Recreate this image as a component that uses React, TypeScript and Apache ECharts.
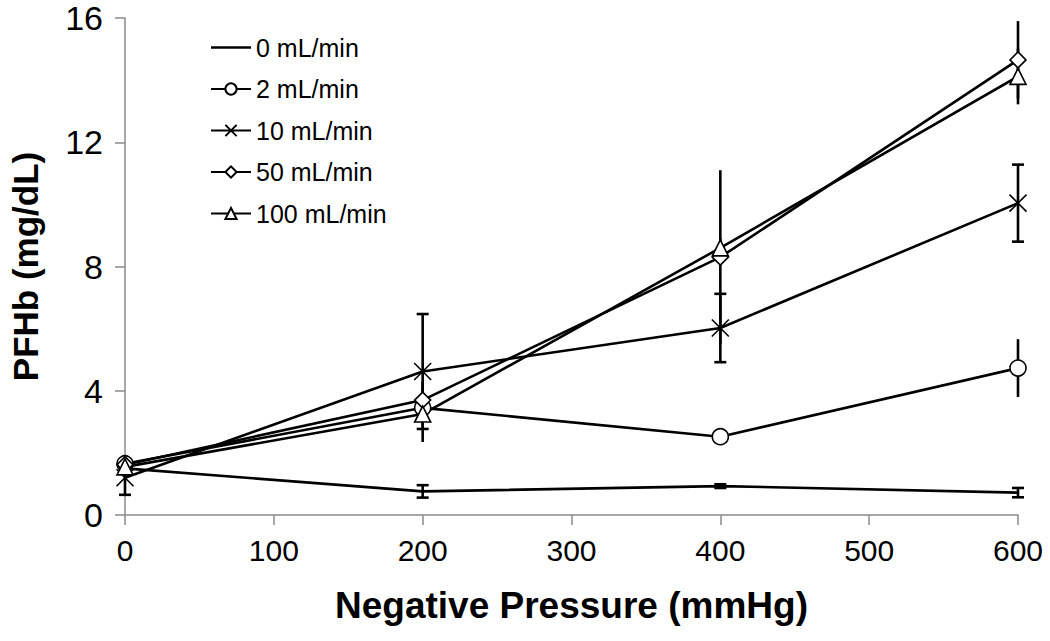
import React, { useEffect, useRef } from "react";
import * as echarts from "echarts";

const pressures = [0, 200, 400, 600];
const seriesNames = ["0 mL/min", "2 mL/min", "10 mL/min", "50 mL/min", "100 mL/min"];
const flow0 = [1.5, 0.76, 0.93, 0.72];
const err0 = [0, 0.2, 0.06, 0.15];
const flow2 = [1.65, 3.45, 2.52, 4.73];
const err2 = [0.1, 0.3, 0.15, 0.93];
const flow10 = [1.2, 4.62, 6.02, 10.04];
const err10 = [0.55, 1.85, 1.1, 1.24];
const flow50 = [1.62, 3.7, 8.3, 14.65];
const err50 = [0.1, 0.6, 2.8, 1.25];
const flow100 = [1.55, 3.25, 8.6, 14.12];
const err100 = [0.1, 0.9, 0.3, 0.9];
const xTicks = [0, 100, 200, 300, 400, 500, 600];
const yTicks = [0, 4, 8, 12, 16];

const crossPath = "path://M0,0L10,10M10,0L0,10";

export default function App() {
  const ref = useRef<HTMLDivElement>(null);
  useEffect(() => {
    if (!ref.current) return;
    const chart = echarts.init(ref.current, undefined, { renderer: "svg" });
    const font = "'Liberation Sans', Arial, sans-serif";
    const values = [flow0, flow2, flow10, flow50, flow100];
    const errs = [err0, err2, err10, err50, err100];
    const symbols = ["none", "circle", crossPath, "diamond", "triangle"];
    const symbolSizes = [0, 16, 17, 16, 16];
    const caps = [true, false, true, false, false];

    const lineSeries = seriesNames.map((name, i) => ({
      name,
      type: "line",
      data: pressures.map((p, j) => [p, values[i][j]]),
      symbol: symbols[i],
      symbolSize: symbolSizes[i],
      showSymbol: symbols[i] !== "none",
      lineStyle: { color: "#000", width: 2.6 },
      itemStyle: { color: "#fff", borderColor: "#000", borderWidth: 1.6 },
      z: 3,
    }));

    const errSeries = seriesNames.map((name, i) => ({
      type: "custom",
      name: name + " err",
      z: 2,
      data: pressures
        .map((p, j) => [p, values[i][j] - errs[i][j], values[i][j] + errs[i][j]])
        .filter((_, j) => errs[i][j] > 0),
      encode: { x: 0, y: [1, 2] },
      renderItem: (params: any, api: any) => {
        const x = api.value(0);
        const lo = api.coord([x, api.value(1)]);
        const hi = api.coord([x, api.value(2)]);
        const style = { stroke: "#000", lineWidth: 2.6 };
        const children: any[] = [
          { type: "line", shape: { x1: lo[0], y1: lo[1], x2: hi[0], y2: hi[1] }, style },
        ];
        if (caps[i]) {
          const w = 6;
          children.push({ type: "line", shape: { x1: lo[0] - w, y1: lo[1], x2: lo[0] + w, y2: lo[1] }, style });
          children.push({ type: "line", shape: { x1: hi[0] - w, y1: hi[1], x2: hi[0] + w, y2: hi[1] }, style });
        }
        return { type: "group", children };
      },
    }));

    const legendData = seriesNames.map((name, i) =>
      i === 0
        ? { name, icon: "path://M0,0L40,0L40,2.6L0,2.6Z", itemStyle: { color: "#000", borderWidth: 0 } }
        : { name }
    );

    chart.setOption({
      animation: false,
      backgroundColor: "#fff",
      grid: { left: 125, right: 32, top: 18, bottom: 126 },
      legend: {
        data: legendData,
        orient: "vertical",
        left: 205,
        top: 30,
        itemWidth: 40,
        itemHeight: 14,
        itemGap: 16.5,
        textStyle: { fontFamily: font, fontSize: 25, color: "#000" },
      },
      xAxis: {
        type: "value",
        min: 0,
        max: 600,
        interval: 100,
        name: "Negative Pressure (mmHg)",
        nameLocation: "middle",
        nameGap: 72,
        nameTextStyle: { fontFamily: font, fontSize: 37, fontWeight: "bold", color: "#000" },
        axisLine: { lineStyle: { color: "#8a8a8a", width: 1.5 } },
        axisTick: { show: true, length: 10, lineStyle: { color: "#8a8a8a", width: 1.5 } },
        axisLabel: {
          fontFamily: font, fontSize: 30, color: "#000", margin: 20,
          formatter: (v: number) => (xTicks.includes(v) ? String(v) : ""),
        },
        splitLine: { show: false },
      },
      yAxis: {
        type: "value",
        min: 0,
        max: 16,
        interval: 4,
        name: "PFHb (mg/dL)",
        nameLocation: "middle",
        nameGap: 82,
        nameTextStyle: { fontFamily: font, fontSize: 35, fontWeight: "bold", color: "#000" },
        axisLine: { show: true, lineStyle: { color: "#8a8a8a", width: 1.5 } },
        axisTick: { show: true, length: 10, lineStyle: { color: "#8a8a8a", width: 1.5 } },
        axisLabel: {
          fontFamily: font, fontSize: 34, color: "#000", margin: 22,
          formatter: (v: number) => (yTicks.includes(v) ? String(v) : ""),
        },
        splitLine: { show: false },
      },
      series: [...errSeries, ...lineSeries],
    });
    return () => chart.dispose();
  }, []);
  return <div ref={ref} style={{ width: 1050, height: 641, position: "absolute", left: 0, top: 0 }} />;
}
